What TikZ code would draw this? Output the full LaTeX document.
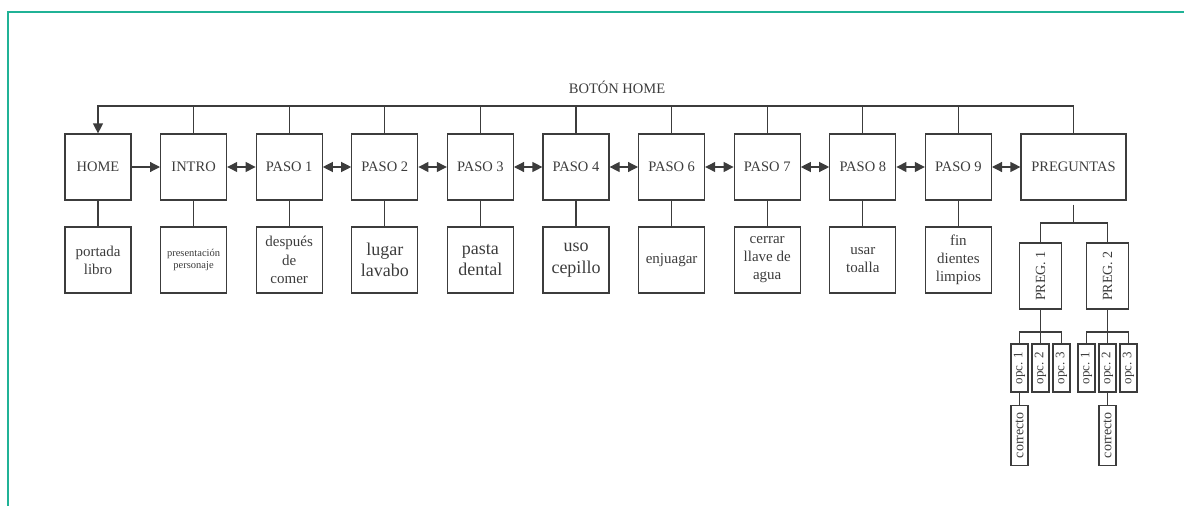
\documentclass[tikz,border=0pt]{standalone}
\usepackage{fontspec}
\setmainfont{Liberation Serif}
\usepackage{graphicx}
\usetikzlibrary{positioning, arrows.meta, calc}

\definecolor{frameteal}{RGB}{32,178,150}
\definecolor{ink}{RGB}{60,60,60}

\begin{document}
\begin{tikzpicture}[x=1pt, y=-1pt,
    ln/.style={draw=ink, line width=1.2pt},
    tip/.style={-{Triangle[length=10pt, width=10pt]}},
    dtip/.style={{Triangle[length=10pt, width=10pt]}-{Triangle[length=10pt, width=10pt]}},
    box/.style={ln, minimum width=66pt, minimum height=66pt, inner sep=1pt,
      align=center, text=ink, font=\fontsize{14.5}{17}\selectfont},
    qbox/.style={ln, minimum width=42pt, minimum height=66pt, inner sep=0pt,
      text=ink, font=\fontsize{14}{16}\selectfont},
    obox/.style={ln, minimum width=17pt, minimum height=48pt, inner sep=0pt,
      text=ink, font=\fontsize{13}{15}\selectfont},
    cbox/.style={ln, minimum width=17pt, minimum height=60pt, inner sep=0pt,
      text=ink, font=\fontsize{14}{16}\selectfont}]
  \useasboundingbox (0,0) rectangle (1184,506);

  % frame
  \draw[frameteal, line width=2pt] (8,506) -- (8,12) -- (1184,12);

  \node[text=ink, font=\fontsize{14.5}{17}\selectfont] (btn) at (617,87) {BOTÓN HOME};

  % top row
  \foreach \name/\lbl/\i in {home/HOME/0, intro/INTRO/1, p1/PASO 1/2, p2/PASO 2/3,
      p3/PASO 3/4, p4/PASO 4/5, p6/PASO 6/6, p7/PASO 7/7, p8/PASO 8/8, p9/PASO 9/9} {
    \node[box] (\name) at (98+95.6*\i,167) {\lbl};
  }
  \node[box, minimum width=105pt] (preg) at (1073.5,167) {PREGUNTAS};

  % second row
  \foreach \name/\fs/\bs/\txt in {home/15/18/{portada\\libro},
      intro/10.5/12.5/{presentación\\personaje},
      p1/15/18.5/{después\\de\\comer}, p2/18/21.5/{lugar\\lavabo},
      p3/18/21.5/{pasta\\dental}, p4/18/21.5/{uso\\cepillo},
      p6/15/18/{enjuagar}, p7/15/18/{cerrar\\llave de\\agua},
      p8/15/18/{usar\\toalla}, p9/15/18/{fin\\dientes\\limpios}} {
    \node[box, font=\fontsize{\fs}{\bs}\selectfont] (\name-txt) at (\name |- 0,260) {\txt};
    \draw[ln] (\name) -- (\name-txt);
  }

  % home button line
  \coordinate (bus) at (98,106);
  \draw[ln, tip] (preg.north) |- (bus) -- (home.north);
  \foreach \name in {intro, p1, p2, p3, p4, p6, p7, p8, p9}
    \draw[ln] (\name.north) -- (\name.north |- bus);

  % navigation
  \draw[ln, tip] (home) -- (intro);
  \foreach \a/\b in {intro/p1, p1/p2, p2/p3, p3/p4, p4/p6, p6/p7, p7/p8, p8/p9, p9/preg}
    \draw[ln, dtip] (\a) -- (\b);

  % questions
  \coordinate (qsplit) at (1073.5,223);
  \node[qbox] (q1) at (1040.5,276) {\rotatebox{90}{PREG. 1}};
  \node[qbox] (q2) at (1107.5,276) {\rotatebox{90}{PREG. 2}};
  \draw[ln] ([yshift=-4pt]preg.south) -- (qsplit);
  \draw[ln] (q1.north) |- (qsplit) -| (q2.north);

  \foreach \q/\x in {1/1040.5, 2/1107.5} {
    \foreach \k/\dx in {1/-21, 2/0, 3/21}
      \node[obox] (o\q\k) at (\x+\dx,368) {\rotatebox{90}{opc. \k}};
    \coordinate (b\q) at (\x,332);
    \draw[ln] (q\q.south) -- (o\q2.north);
    \draw[ln] (o\q1.north) |- (b\q) -| (o\q3.north);
  }

  \node[cbox, below=12pt of o11] (c1) {\rotatebox{90}{correcto}};
  \node[cbox, below=12pt of o22] (c2) {\rotatebox{90}{correcto}};
  \draw[ln] (o11) -- (c1);
  \draw[ln] (o22) -- (c2);
\end{tikzpicture}
\end{document}
